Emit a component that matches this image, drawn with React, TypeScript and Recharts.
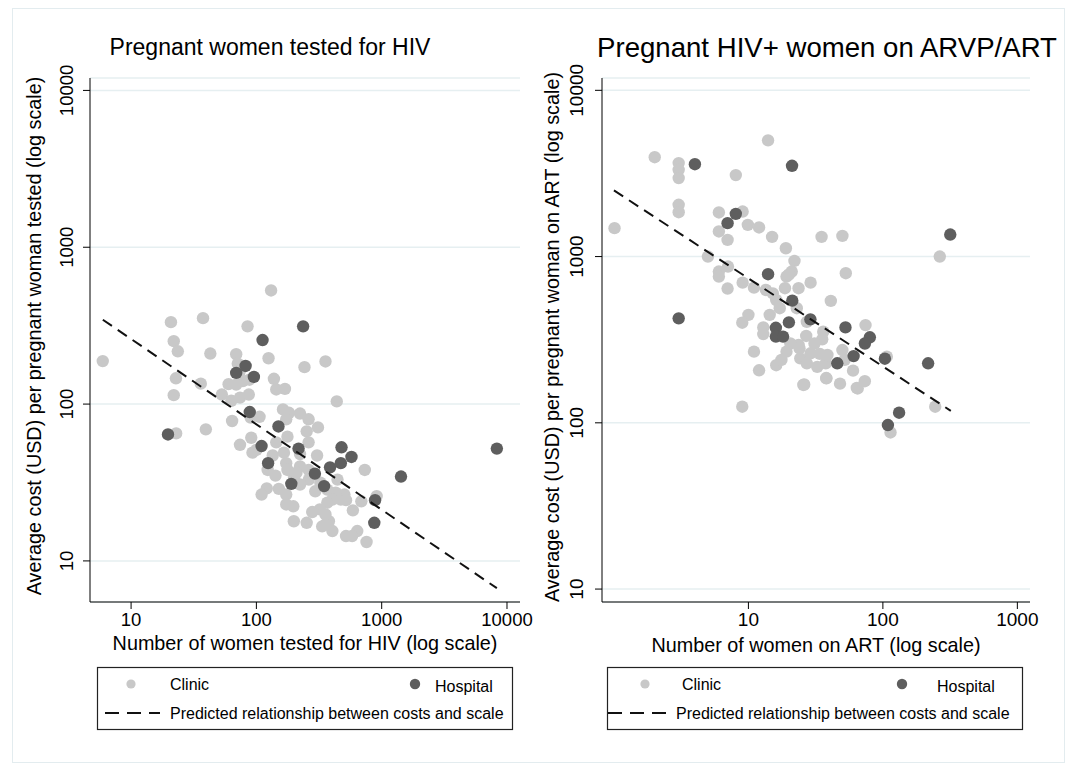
import { CartesianGrid, Scatter, ScatterChart, XAxis, YAxis } from 'recharts';

const FONT = '"Liberation Sans", Arial, sans-serif';
const CLINIC = '#c8c8c8';
const HOSPITAL = '#5e5e5e';

// [number of women tested, cost per woman tested]
const hivClinic: [number, number][] = [
  [131, 530], [37.5, 353], [20.8, 333], [85, 313], [21.9, 252], [23.6, 217],
  [42.9, 210], [69, 208], [125, 196], [242, 172], [356, 187], [5.94, 188],
  [71, 181], [22.8, 146], [36, 135], [60, 134], [78, 140], [69, 133], [88, 143],
  [138, 145], [144, 124], [169, 125], [53, 115], [63, 105], [74, 110], [87, 115],
  [21.9, 114], [438, 104], [163, 92.5], [182, 88], [223, 87], [261, 80], [106, 83],
  [64, 78], [90, 82], [173, 80], [39.5, 69], [22.9, 65], [310, 71], [252, 67],
  [177, 62], [91, 61], [144, 57], [74, 55], [261, 57], [93, 49], [100, 51],
  [166, 49], [223, 48], [135, 47], [305, 47], [173, 42], [223, 40], [123, 38],
  [142, 35], [177, 38], [200, 34], [209, 36.5], [261, 38], [262, 33], [324, 31.5],
  [444, 33], [733, 38], [121, 29], [151, 28.8], [223, 30.7], [295, 27.8],
  [368, 28.5], [430, 27.2], [504, 26.5], [110, 26.5], [173, 26.5], [404, 24.6],
  [472, 24.6], [519, 24.4], [688, 24], [912, 25.9], [173, 22.9], [197, 22.3],
  [368, 23.5], [321, 21.3], [589, 21], [279, 20.5], [356, 19.8], [379, 17.9],
  [199, 17.9], [252, 17.5], [356, 17.1], [335, 16.6], [404, 15.5], [519, 14.4],
  [638, 15.5], [581, 14.4], [757, 13.2], [73, 158],
];

const hivHospital: [number, number][] = [
  [19.7, 64], [112, 256], [236, 313], [69, 158], [82, 175], [95.5, 149],
  [88.5, 89], [150, 72], [110, 54], [124, 42], [217, 52], [190, 31], [293, 36],
  [347, 30], [387, 39.5], [478, 53], [472, 42], [574, 46], [1426, 34.5],
  [885, 24.4], [873, 17.5], [8300, 52],
];

const hivFit: [number, number][] = [[5.95, 345], [8300, 6.7]];

// [number of women on ART, cost per woman on ART]
const artClinic: [number, number][] = [
  [14, 5000], [2.01, 3960], [3.03, 3650], [3.03, 3326], [3.03, 2965], [8.06, 3090],
  [3.03, 2048], [3.03, 1849], [1.01, 1482], [6.03, 1842], [9.06, 1866], [9.9, 1552],
  [12, 1496], [6.03, 1416], [7, 1260], [15, 1313], [35, 1313], [50, 1331],
  [19, 1122], [5, 1000], [265, 1000], [22, 942], [7.05, 871], [6.03, 813],
  [6.03, 758], [7, 642], [9.06, 697], [11, 650], [13.5, 630], [21, 813],
  [19.2, 758], [20, 780], [18.7, 645], [23.6, 645], [29, 697], [53, 794], [41, 541],
  [15.2, 601], [16.1, 548], [22.9, 489], [10, 446], [9, 400], [14.4, 446],
  [17.1, 489], [27.2, 405], [74.3, 387], [36, 353], [26.9, 333], [12.9, 375],
  [12.9, 342], [11, 268], [12, 207], [9, 125], [16.1, 222], [19.2, 268],
  [23.6, 294], [24.3, 244], [27.2, 228], [32.5, 217], [37.6, 228], [38, 185],
  [26, 170], [48, 172], [60, 206], [65, 161], [73.4, 178], [245, 125], [114, 87.5],
  [107, 250], [29, 262], [38.7, 256], [50, 274], [52, 239], [17.6, 239],
  [35.4, 318], [25.6, 169], [37.9, 186], [64, 162], [20.5, 300], [24, 280],
  [31, 300], [34, 260],
];

const artHospital: [number, number][] = [
  [4, 3594], [21.1, 3516], [8.06, 1807], [7, 1589], [317, 1357], [14, 783],
  [3.03, 425], [21.2, 543], [28.9, 419], [20, 402], [16, 373], [52.7, 375],
  [16, 330], [18.1, 330], [80, 327], [73.5, 300], [60.6, 252], [103.5, 243],
  [45.8, 228], [217, 228], [132, 115], [109, 97],
];

const artFit: [number, number][] = [[1.0, 2500], [320, 118]];

const hivTicksX = [10, 100, 1000, 10000];
const artTicksX = [10, 100, 1000];
const costTicks = [10, 100, 1000, 10000];

const toPoints = (rows: [number, number][]) => rows.map(([x, y]) => ({ x, y }));

const dot = (color: string) => (s: any) => <circle cx={s.cx} cy={s.cy} r={6.2} fill={color} />;

type PanelProps = {
  left: number;
  yAxisWidth: number;
  marginRight: number;
  xDomain: [number, number];
  yDomain: [number, number];
  xTicks: number[];
  clinic: [number, number][];
  hospital: [number, number][];
  fit: [number, number][];
  xTitle: string;
  yTitle: string;
  xTitleX: number;
  xTitleY: number;
  yTitleX: number;
  yTitleY: number;
  yTickX: number;
  tickSize: number;
};

function Panel(p: PanelProps) {
  return (
    <div style={{ position: 'absolute', left: p.left, top: 0 }}>
      <ScatterChart
        width={534}
        height={660}
        margin={{ top: 78, right: p.marginRight, bottom: 0, left: 0 }}
      >
        <CartesianGrid vertical={false} stroke="#e6eff1" strokeWidth={1.5} />
        <XAxis
          type="number"
          dataKey="x"
          scale="log"
          domain={p.xDomain}
          ticks={p.xTicks}
          allowDataOverflow
          height={58}
          tickSize={7}
          tickMargin={4}
          stroke="#000"
          tick={{ fill: '#000', fontSize: p.tickSize, fontFamily: FONT }}
          label={() => (
            <text
              x={p.xTitleX}
              y={p.xTitleY}
              textAnchor="middle"
              dominantBaseline="central"
              fontSize={19.8}
              fontFamily={FONT}
              fill="#000"
            >
              {p.xTitle}
            </text>
          )}
        />
        <YAxis
          type="number"
          dataKey="y"
          scale="log"
          domain={p.yDomain}
          ticks={costTicks}
          allowDataOverflow
          width={p.yAxisWidth}
          tickSize={7}
          stroke="#000"
          tick={(t: any) => (
            <text
              x={p.yTickX}
              y={t.y}
              transform={`rotate(-90 ${p.yTickX} ${t.y})`}
              textAnchor="middle"
              dominantBaseline="central"
              fontSize={p.tickSize}
              fontFamily={FONT}
              fill="#000"
            >
              {t.payload.value}
            </text>
          )}
          label={() => (
            <text
              x={p.yTitleX}
              y={p.yTitleY}
              transform={`rotate(-90 ${p.yTitleX} ${p.yTitleY})`}
              textAnchor="middle"
              dominantBaseline="central"
              fontSize={19.8}
              fontFamily={FONT}
              fill="#000"
            >
              {p.yTitle}
            </text>
          )}
        />
        <Scatter
          name="Clinic"
          data={toPoints(p.clinic)}
          fill={CLINIC}
          shape={dot(CLINIC)}
          isAnimationActive={false}
        />
        <Scatter
          name="Hospital"
          data={toPoints(p.hospital)}
          fill={HOSPITAL}
          shape={dot(HOSPITAL)}
          isAnimationActive={false}
        />
        <Scatter
          name="Predicted relationship between costs and scale"
          data={toPoints(p.fit)}
          line={{ stroke: '#111', strokeWidth: 2, strokeDasharray: '11 7' }}
          lineType="joint"
          shape={() => <g />}
          isAnimationActive={false}
        />
      </ScatterChart>
    </div>
  );
}

function LegendBox({ x, clinicX, hospitalX, clinicText, hospitalText, dashFrom, dashTo, fitText }: any) {
  return (
    <g fontFamily={FONT} fontSize={16} fill="#000">
      <rect x={x} y={667.5} width={415} height={62} fill="#fff" stroke="#222" strokeWidth={1.2} />
      <circle cx={clinicX} cy={684} r={4.6} fill={CLINIC} />
      <text x={clinicText} y={684} dominantBaseline="central">Clinic</text>
      <circle cx={hospitalX} cy={684} r={5.2} fill={HOSPITAL} />
      <text x={hospitalText} y={686} dominantBaseline="central">Hospital</text>
      <line x1={dashFrom} y1={713} x2={dashTo} y2={713} stroke="#111" strokeWidth={2} strokeDasharray="14 8" />
      <text x={fitText} y={713} dominantBaseline="central">Predicted relationship between costs and scale</text>
    </g>
  );
}

export default function App() {
  return (
    <div style={{ position: 'absolute', left: 0, top: 0, width: 1068, height: 770, background: '#fff' }}>
      <Panel
        left={0}
        yAxisWidth={90}
        marginRight={14}
        xDomain={[4.7, 12700]}
        yDomain={[5.47, 12000]}
        xTicks={hivTicksX}
        clinic={hivClinic}
        hospital={hivHospital}
        fit={hivFit}
        xTitle="Number of women tested for HIV (log scale)"
        yTitle="Average cost (USD) per pregnant woman tested (log scale)"
        xTitleX={305}
        xTitleY={643}
        yTitleX={34}
        yTitleY={336}
        yTickX={67}
        tickSize={18.5}
      />
      <Panel
        left={534}
        yAxisWidth={68}
        marginRight={38}
        xDomain={[0.815, 1242]}
        yDomain={[8.36, 11860]}
        xTicks={artTicksX}
        clinic={artClinic}
        hospital={artHospital}
        fit={artFit}
        xTitle="Number of women on ART (log scale)"
        yTitle="Average cost (USD) per pregnant woman on ART (log scale)"
        xTitleX={282}
        xTitleY={645}
        yTitleX={18}
        yTitleY={337}
        yTickX={43}
        tickSize={19}
      />
      <svg
        width={1068}
        height={770}
        style={{ position: 'absolute', left: 0, top: 0, pointerEvents: 'none' }}
      >
        <rect x={12.5} y={8.5} width={1052} height={754} fill="none" stroke="#e3ecef" />
        <text x={270} y={47} textAnchor="middle" dominantBaseline="central" fontSize={23} fontFamily={FONT}>
          Pregnant women tested for HIV
        </text>
        <text x={827} y={47} textAnchor="middle" dominantBaseline="central" fontSize={27.6} fontFamily={FONT}>
          Pregnant HIV+ women on ARVP/ART
        </text>
        <LegendBox x={97.5} clinicX={131} hospitalX={415} clinicText={170} hospitalText={435} dashFrom={105} dashTo={160} fitText={170} />
        <LegendBox x={607.5} clinicX={645} hospitalX={902} clinicText={682} hospitalText={937} dashFrom={608} dashTo={672} fitText={676} />
      </svg>
    </div>
  );
}
